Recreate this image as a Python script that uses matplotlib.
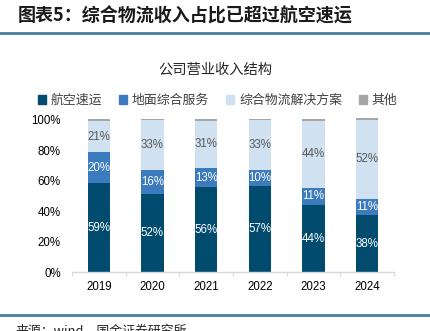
import numpy as np
import matplotlib
matplotlib.use("Agg")
import matplotlib.pyplot as plt
from matplotlib.lines import Line2D

plt.rcParams['font.family'] = ['Liberation Sans', 'Noto Sans CJK SC', 'DejaVu Sans']

years = ['2019', '2020', '2021', '2022', '2023', '2024']
air = [58.6, 51.6, 55.6, 56.7, 44.0, 37.6]          # 航空速运
ground = [19.9, 15.6, 12.8, 10.2, 11.4, 10.7]       # 地面综合服务
logistics = [20.7, 32.6, 30.8, 32.6, 43.8, 51.6]    # 综合物流解决方案
other = [0.8, 0.6, 0.8, 0.6, 0.8, 0.8]              # 其他
names = ['航空速运', '地面综合服务', '综合物流解决方案', '其他']
colors = ['#004B6E', '#3C7BBE', '#D0E1F2', '#A6A6A6']
label_colors = ['white', 'white', '#595959', None]

fig = plt.figure(figsize=(4.31, 3.31), dpi=100)
ax = fig.add_axes([0.167, 0.177, 0.747, 0.462])

x = np.arange(len(years))
bottom = np.zeros(len(years))
for vals, c, lc in zip([air, ground, logistics, other], colors, label_colors):
    vals = np.array(vals)
    ax.bar(x, vals, 0.42, bottom=bottom, color=c, clip_on=False, zorder=2)
    if lc:
        for xi, b, v in zip(x, bottom, vals):
            ax.text(xi, b + v / 2, f'{v:.0f}%', ha='center', va='center',
                    fontsize=8.3, color=lc, zorder=3)
    bottom += vals

ax.set_xlim(-0.5, len(years) - 0.5)
ax.set_ylim(0, 100)
ax.set_yticks([0, 20, 40, 60, 80, 100])
ax.set_yticklabels([f'{t}%' for t in [0, 20, 40, 60, 80, 100]], fontsize=8.3)
ax.set_xticks(x)
ax.set_xticklabels(years, fontsize=8.3)
ax.set_xticks(np.arange(-0.5, len(years)), minor=True)
ax.tick_params(axis='x', which='major', length=0, pad=6)
ax.tick_params(axis='x', which='minor', length=3, color='#D9D9D9', width=0.8)
ax.tick_params(axis='y', length=0, pad=8)
for s in ['top', 'right', 'left']:
    ax.spines[s].set_visible(False)
ax.spines['bottom'].set_color('#D9D9D9')
ax.spines['bottom'].set_linewidth(1.0)

cjk = ['Noto Sans CJK SC', 'DejaVu Sans']
fig.text(0.04, 0.952, '图表5：综合物流收入占比已超过航空速运', fontsize=13,
         fontweight='bold', family=cjk, color='#1A1A1A', va='center')
fig.add_artist(Line2D([0, 1], [0.899, 0.899], color='#4A7E9E', lw=2))
fig.text(0.50, 0.791, '公司营业收入结构', fontsize=10.3, family=cjk,
         color='#262626', ha='center', va='center')

handles = [plt.Rectangle((0, 0), 1, 1, color=c) for c in colors]
leg = fig.legend(handles, names, loc='center', bbox_to_anchor=(0.505, 0.696),
                 ncol=4, frameon=False, prop={'family': cjk, 'size': 9.3},
                 handlelength=0.6, handleheight=0.6, handletextpad=0.4,
                 columnspacing=1.3)
for t in leg.get_texts():
    t.set_color('#404040')

fig.add_artist(Line2D([0, 1], [0.048, 0.048], color='#4A7E9E', lw=2))
fig.text(0.035, 0.018, '来源：wind，国金证券研究所', fontsize=9.3, family=cjk,
         color='#262626', va='top')

fig.savefig('out.png', dpi=100)
